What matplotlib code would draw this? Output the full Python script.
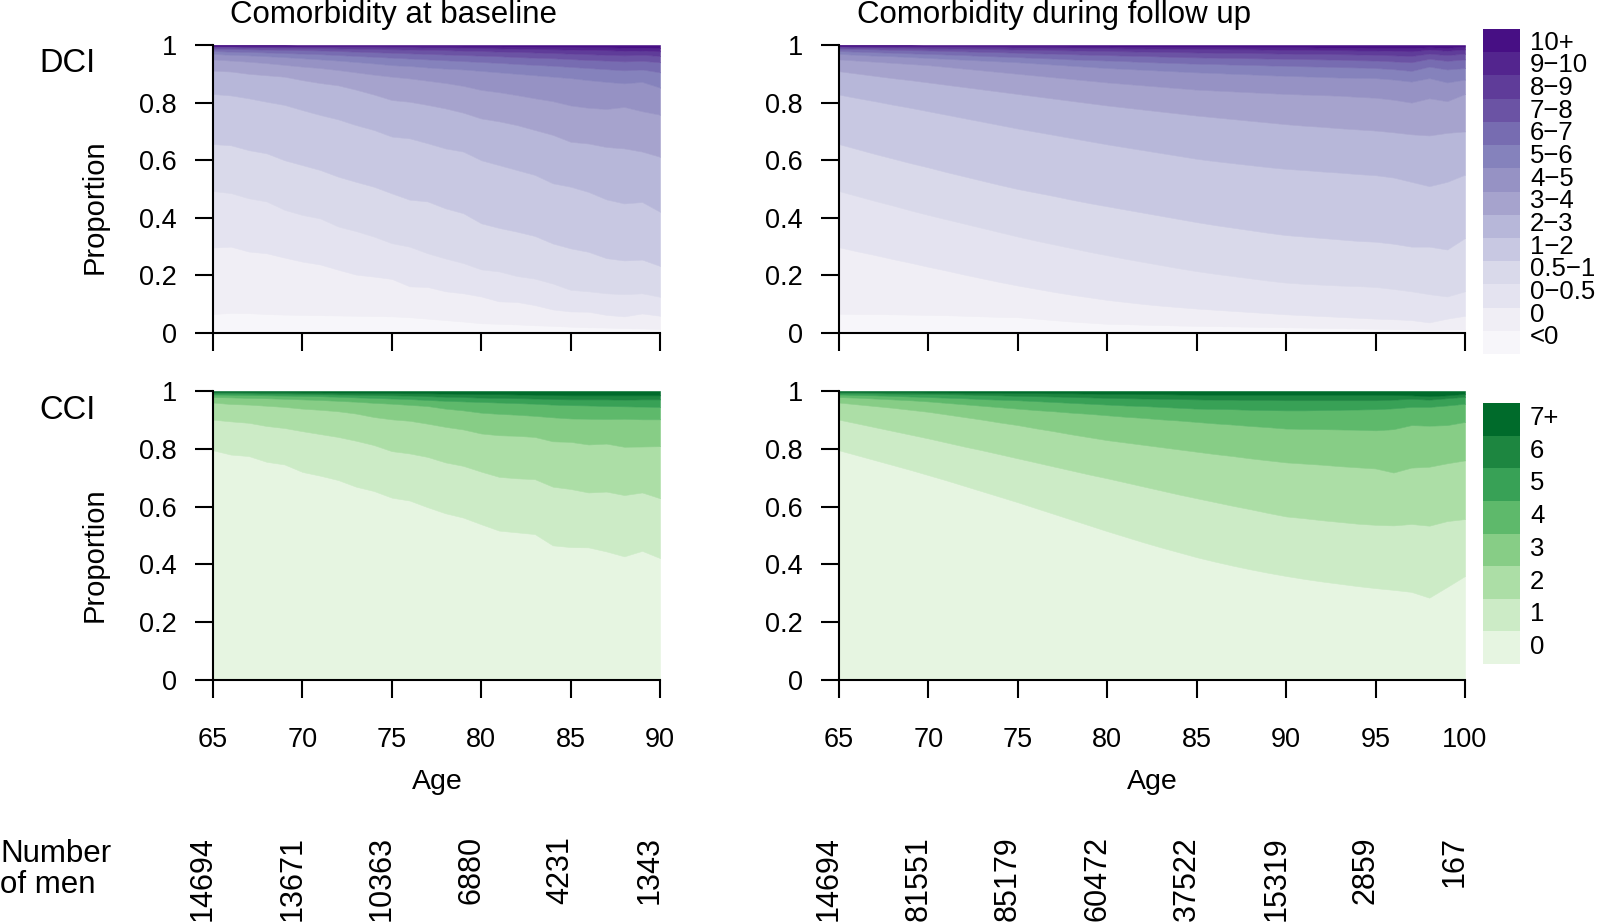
import numpy as np
import matplotlib.pyplot as plt
from matplotlib import transforms

plt.rcParams['font.family'] = ['Liberation Sans', 'DejaVu Sans']

# ages on the x axis
ages_base = list(range(65, 91))
ages_fu = list(range(65, 101))

dci_labels = ["<0", "0", "0\u22120.5", "0.5\u22121", "1\u22122", "2\u22123", "3\u22124",
              "4\u22125", "5\u22126", "6\u22127", "7\u22128", "8\u22129", "9\u221210", "10+"]
cci_labels = ["0", "1", "2", "3", "4", "5", "6", "7+"]

# cumulative proportion (top of each category band), DCI at baseline, ages 65-90
dcib_lt0 = [0.066, 0.070, 0.069, 0.066, 0.064, 0.063, 0.062, 0.061, 0.060, 0.059, 0.058, 0.055, 0.050,
            0.045, 0.040, 0.034, 0.032, 0.030, 0.027, 0.025, 0.022, 0.020, 0.019, 0.017, 0.016, 0.014]
dcib_0 = [0.297, 0.300, 0.283, 0.277, 0.262, 0.248, 0.238, 0.220, 0.203, 0.196, 0.188, 0.162, 0.160,
          0.145, 0.138, 0.127, 0.110, 0.108, 0.097, 0.082, 0.075, 0.074, 0.063, 0.058, 0.068, 0.060]
dcib_0_05 = [0.493, 0.486, 0.468, 0.457, 0.428, 0.410, 0.398, 0.370, 0.354, 0.335, 0.312, 0.300, 0.277,
             0.259, 0.243, 0.221, 0.214, 0.198, 0.189, 0.172, 0.150, 0.145, 0.138, 0.135, 0.138, 0.126]
dcib_05_1 = [0.656, 0.652, 0.635, 0.624, 0.600, 0.583, 0.566, 0.543, 0.525, 0.508, 0.485, 0.463, 0.457,
             0.433, 0.416, 0.381, 0.365, 0.352, 0.337, 0.311, 0.294, 0.282, 0.260, 0.252, 0.255, 0.233]
dcib_1_2 = [0.830, 0.825, 0.815, 0.803, 0.792, 0.774, 0.757, 0.742, 0.722, 0.705, 0.682, 0.676, 0.659,
            0.641, 0.630, 0.600, 0.583, 0.566, 0.549, 0.520, 0.508, 0.490, 0.464, 0.450, 0.455, 0.421]
dcib_2_3 = [0.911, 0.908, 0.900, 0.895, 0.890, 0.878, 0.868, 0.860, 0.845, 0.828, 0.809, 0.803, 0.792,
            0.780, 0.765, 0.745, 0.735, 0.722, 0.705, 0.688, 0.664, 0.658, 0.646, 0.641, 0.630, 0.612]
dcib_3_4 = [0.950, 0.946, 0.942, 0.937, 0.931, 0.925, 0.920, 0.913, 0.905, 0.897, 0.890, 0.884, 0.876,
            0.868, 0.858, 0.844, 0.836, 0.826, 0.815, 0.805, 0.790, 0.782, 0.778, 0.785, 0.770, 0.758]
dcib_4_5 = [0.969, 0.966, 0.964, 0.961, 0.958, 0.954, 0.950, 0.946, 0.941, 0.936, 0.930, 0.927, 0.922,
            0.918, 0.915, 0.910, 0.905, 0.900, 0.895, 0.890, 0.885, 0.878, 0.872, 0.867, 0.872, 0.852]
dcib_5_6 = [0.979, 0.977, 0.976, 0.974, 0.972, 0.970, 0.968, 0.965, 0.962, 0.959, 0.956, 0.953, 0.950,
            0.947, 0.944, 0.941, 0.938, 0.934, 0.931, 0.928, 0.924, 0.920, 0.916, 0.912, 0.915, 0.905]
dcib_6_7 = [0.987, 0.986, 0.985, 0.984, 0.983, 0.982, 0.981, 0.979, 0.977, 0.975, 0.973, 0.971, 0.969,
            0.967, 0.965, 0.963, 0.961, 0.958, 0.956, 0.954, 0.951, 0.948, 0.946, 0.943, 0.945, 0.940]
dcib_7_8 = [0.992, 0.992, 0.991, 0.991, 0.990, 0.989, 0.989, 0.988, 0.987, 0.986, 0.985, 0.984, 0.983,
            0.982, 0.980, 0.979, 0.977, 0.976, 0.974, 0.972, 0.970, 0.968, 0.966, 0.964, 0.966, 0.962]
dcib_8_9 = [0.996, 0.996, 0.995, 0.995, 0.995, 0.994, 0.994, 0.994, 0.993, 0.993, 0.992, 0.992, 0.991,
            0.991, 0.990, 0.989, 0.988, 0.987, 0.986, 0.985, 0.984, 0.983, 0.982, 0.980, 0.981, 0.978]
dcib_9_10 = [0.998, 0.998, 0.998, 0.998, 0.998, 0.997, 0.997, 0.997, 0.997, 0.997, 0.996, 0.996, 0.996,
             0.996, 0.995, 0.995, 0.995, 0.994, 0.994, 0.993, 0.993, 0.992, 0.992, 0.991, 0.991, 0.990]

# DCI during follow up, ages 65-100
dcif_lt0 = [0.067, 0.066, 0.066, 0.065, 0.064, 0.063, 0.062, 0.060, 0.058, 0.056, 0.055, 0.050,
            0.045, 0.040, 0.036, 0.032, 0.031, 0.029, 0.028, 0.026, 0.025, 0.024, 0.023, 0.022,
            0.021, 0.020, 0.019, 0.018, 0.017, 0.016, 0.015, 0.014, 0.013, 0.010, 0.012, 0.012]
dcif_0 = [0.298, 0.284, 0.271, 0.257, 0.244, 0.230, 0.217, 0.203, 0.190, 0.177, 0.165, 0.154,
          0.143, 0.133, 0.124, 0.115, 0.108, 0.101, 0.095, 0.090, 0.085, 0.081, 0.077, 0.073,
          0.069, 0.065, 0.062, 0.059, 0.056, 0.053, 0.050, 0.048, 0.045, 0.037, 0.050, 0.060]
dcif_0_05 = [0.493, 0.476, 0.459, 0.443, 0.426, 0.410, 0.395, 0.380, 0.365, 0.350, 0.335, 0.321,
             0.308, 0.295, 0.282, 0.270, 0.258, 0.247, 0.236, 0.225, 0.215, 0.206, 0.198, 0.190,
             0.182, 0.175, 0.171, 0.168, 0.165, 0.163, 0.160, 0.153, 0.145, 0.135, 0.127, 0.145]
dcif_05_1 = [0.656, 0.639, 0.622, 0.606, 0.590, 0.575, 0.559, 0.544, 0.529, 0.514, 0.500, 0.488,
             0.476, 0.463, 0.451, 0.440, 0.429, 0.418, 0.407, 0.396, 0.385, 0.375, 0.366, 0.357,
             0.348, 0.340, 0.335, 0.330, 0.325, 0.320, 0.317, 0.310, 0.300, 0.300, 0.290, 0.330]
dcif_1_2 = [0.828, 0.816, 0.805, 0.793, 0.782, 0.770, 0.758, 0.746, 0.734, 0.722, 0.710, 0.699,
            0.688, 0.677, 0.666, 0.655, 0.645, 0.635, 0.625, 0.615, 0.605, 0.597, 0.590, 0.583,
            0.576, 0.570, 0.566, 0.561, 0.557, 0.552, 0.548, 0.540, 0.525, 0.510, 0.525, 0.550]
dcif_2_3 = [0.909, 0.901, 0.893, 0.885, 0.878, 0.870, 0.862, 0.854, 0.846, 0.838, 0.830, 0.822,
            0.814, 0.806, 0.798, 0.790, 0.783, 0.776, 0.769, 0.762, 0.755, 0.749, 0.743, 0.737,
            0.731, 0.725, 0.720, 0.716, 0.711, 0.707, 0.703, 0.697, 0.690, 0.686, 0.695, 0.700]
dcif_3_4 = [0.950, 0.946, 0.942, 0.938, 0.934, 0.930, 0.924, 0.918, 0.912, 0.906, 0.900, 0.894,
            0.888, 0.882, 0.876, 0.870, 0.865, 0.860, 0.855, 0.850, 0.845, 0.842, 0.839, 0.836,
            0.833, 0.830, 0.828, 0.826, 0.824, 0.820, 0.817, 0.810, 0.800, 0.815, 0.805, 0.830]
dcif_4_5 = [0.969, 0.966, 0.963, 0.961, 0.958, 0.955, 0.952, 0.949, 0.946, 0.943, 0.940, 0.936,
            0.932, 0.928, 0.924, 0.920, 0.917, 0.914, 0.911, 0.908, 0.905, 0.903, 0.900, 0.898,
            0.895, 0.893, 0.891, 0.889, 0.887, 0.886, 0.885, 0.880, 0.873, 0.885, 0.870, 0.880]
dcif_5_6 = [0.979, 0.977, 0.975, 0.973, 0.971, 0.969, 0.967, 0.965, 0.962, 0.960, 0.958, 0.955,
            0.953, 0.950, 0.948, 0.946, 0.944, 0.941, 0.939, 0.937, 0.935, 0.934, 0.932, 0.931,
            0.929, 0.928, 0.926, 0.925, 0.923, 0.922, 0.920, 0.916, 0.910, 0.925, 0.915, 0.920]
dcif_6_7 = [0.987, 0.986, 0.985, 0.983, 0.982, 0.981, 0.979, 0.978, 0.976, 0.975, 0.973, 0.971,
            0.970, 0.968, 0.966, 0.965, 0.963, 0.962, 0.960, 0.958, 0.957, 0.956, 0.955, 0.954,
            0.953, 0.952, 0.951, 0.950, 0.949, 0.947, 0.946, 0.943, 0.940, 0.952, 0.945, 0.950]
dcif_7_8 = [0.992, 0.991, 0.991, 0.990, 0.989, 0.988, 0.988, 0.987, 0.986, 0.985, 0.984, 0.983,
            0.982, 0.981, 0.980, 0.979, 0.978, 0.977, 0.976, 0.975, 0.974, 0.973, 0.973, 0.972,
            0.971, 0.970, 0.969, 0.969, 0.968, 0.967, 0.966, 0.964, 0.962, 0.970, 0.965, 0.970]
dcif_8_9 = [0.996, 0.996, 0.995, 0.995, 0.994, 0.994, 0.993, 0.993, 0.992, 0.992, 0.991, 0.991,
            0.990, 0.990, 0.989, 0.989, 0.988, 0.988, 0.987, 0.987, 0.986, 0.986, 0.985, 0.985,
            0.984, 0.983, 0.983, 0.982, 0.982, 0.981, 0.981, 0.980, 0.978, 0.984, 0.980, 0.985]
dcif_9_10 = [0.998, 0.998, 0.998, 0.998, 0.998, 0.997, 0.997, 0.997, 0.997, 0.996, 0.996, 0.996,
             0.996, 0.995, 0.995, 0.995, 0.994, 0.994, 0.994, 0.993, 0.993, 0.993, 0.993, 0.992,
             0.992, 0.992, 0.992, 0.991, 0.991, 0.991, 0.990, 0.990, 0.990, 0.992, 0.990, 0.995]

# CCI at baseline, ages 65-90
ccib_0 = [0.795, 0.780, 0.775, 0.755, 0.746, 0.720, 0.707, 0.692, 0.669, 0.654, 0.631, 0.621, 0.598,
          0.577, 0.562, 0.539, 0.517, 0.511, 0.505, 0.466, 0.460, 0.459, 0.445, 0.428, 0.447, 0.422]
ccib_1 = [0.901, 0.895, 0.890, 0.879, 0.872, 0.861, 0.851, 0.841, 0.828, 0.813, 0.792, 0.784, 0.772,
          0.753, 0.741, 0.721, 0.703, 0.698, 0.695, 0.669, 0.661, 0.649, 0.652, 0.640, 0.649, 0.629]
ccib_2 = [0.960, 0.955, 0.953, 0.949, 0.945, 0.939, 0.935, 0.930, 0.922, 0.910, 0.902, 0.897, 0.887,
          0.876, 0.867, 0.853, 0.847, 0.845, 0.841, 0.826, 0.824, 0.815, 0.818, 0.807, 0.808, 0.809]
ccib_3 = [0.979, 0.978, 0.976, 0.975, 0.973, 0.971, 0.969, 0.966, 0.963, 0.959, 0.956, 0.952, 0.948,
          0.939, 0.933, 0.925, 0.921, 0.918, 0.914, 0.909, 0.905, 0.904, 0.903, 0.904, 0.902, 0.902]
ccib_4 = [0.988, 0.987, 0.986, 0.985, 0.984, 0.983, 0.982, 0.980, 0.978, 0.976, 0.974, 0.972, 0.969,
          0.966, 0.964, 0.962, 0.960, 0.958, 0.956, 0.953, 0.951, 0.950, 0.948, 0.947, 0.946, 0.945]
ccib_5 = [0.993, 0.993, 0.992, 0.991, 0.991, 0.990, 0.989, 0.988, 0.987, 0.986, 0.985, 0.984, 0.982,
          0.980, 0.979, 0.977, 0.976, 0.975, 0.974, 0.972, 0.971, 0.971, 0.971, 0.970, 0.971, 0.971]
ccib_6 = [0.997, 0.997, 0.996, 0.996, 0.996, 0.995, 0.995, 0.994, 0.994, 0.993, 0.993, 0.992, 0.992,
          0.991, 0.990, 0.989, 0.989, 0.988, 0.987, 0.986, 0.985, 0.985, 0.985, 0.985, 0.985, 0.985]

# CCI during follow up, ages 65-100
ccif_0 = [0.795, 0.778, 0.761, 0.744, 0.727, 0.709, 0.691, 0.672, 0.653, 0.634, 0.615, 0.595,
          0.575, 0.555, 0.535, 0.515, 0.496, 0.477, 0.459, 0.442, 0.425, 0.410, 0.396, 0.383,
          0.371, 0.360, 0.350, 0.341, 0.333, 0.325, 0.318, 0.312, 0.305, 0.285, 0.322, 0.360]
ccif_1 = [0.901, 0.888, 0.875, 0.862, 0.849, 0.836, 0.822, 0.808, 0.795, 0.781, 0.767, 0.753,
          0.739, 0.725, 0.711, 0.698, 0.684, 0.670, 0.656, 0.642, 0.629, 0.616, 0.603, 0.591,
          0.578, 0.566, 0.560, 0.553, 0.547, 0.541, 0.537, 0.535, 0.540, 0.534, 0.550, 0.557]
ccif_2 = [0.960, 0.954, 0.948, 0.942, 0.935, 0.928, 0.919, 0.910, 0.901, 0.891, 0.882, 0.871,
          0.861, 0.850, 0.840, 0.830, 0.822, 0.814, 0.806, 0.798, 0.790, 0.782, 0.775, 0.767,
          0.760, 0.753, 0.749, 0.745, 0.740, 0.736, 0.732, 0.718, 0.735, 0.738, 0.750, 0.760]
ccif_3 = [0.979, 0.977, 0.974, 0.971, 0.968, 0.964, 0.959, 0.954, 0.949, 0.944, 0.939, 0.934,
          0.930, 0.925, 0.921, 0.916, 0.911, 0.907, 0.902, 0.898, 0.893, 0.888, 0.884, 0.879,
          0.875, 0.870, 0.869, 0.868, 0.867, 0.866, 0.864, 0.868, 0.882, 0.880, 0.882, 0.893]
ccif_4 = [0.988, 0.986, 0.985, 0.983, 0.981, 0.979, 0.977, 0.975, 0.972, 0.970, 0.968, 0.965,
          0.962, 0.959, 0.956, 0.953, 0.950, 0.948, 0.945, 0.942, 0.939, 0.938, 0.937, 0.935,
          0.934, 0.933, 0.933, 0.934, 0.935, 0.936, 0.937, 0.940, 0.945, 0.945, 0.950, 0.956]
ccif_5 = [0.993, 0.993, 0.992, 0.991, 0.990, 0.990, 0.989, 0.988, 0.986, 0.985, 0.983, 0.982,
          0.981, 0.979, 0.978, 0.976, 0.975, 0.974, 0.973, 0.972, 0.971, 0.970, 0.970, 0.969,
          0.969, 0.968, 0.968, 0.968, 0.968, 0.968, 0.968, 0.970, 0.973, 0.970, 0.975, 0.980]
ccif_6 = [0.997, 0.997, 0.996, 0.996, 0.996, 0.995, 0.995, 0.994, 0.994, 0.994, 0.993, 0.993,
          0.992, 0.992, 0.991, 0.990, 0.990, 0.989, 0.989, 0.988, 0.987, 0.987, 0.987, 0.987,
          0.987, 0.987, 0.987, 0.987, 0.987, 0.987, 0.987, 0.986, 0.985, 0.982, 0.985, 0.990]

# number of men at risk
n_base_ages = [65, 70, 75, 80, 85, 90]
n_base = [14694, 13671, 10363, 6880, 4231, 1343]
n_fu_ages = [65, 70, 75, 80, 85, 90, 95, 100]
n_fu = [14694, 81551, 85179, 60472, 37522, 15319, 2859, 167]

dci_base = [dcib_lt0, dcib_0, dcib_0_05, dcib_05_1, dcib_1_2, dcib_2_3, dcib_3_4,
            dcib_4_5, dcib_5_6, dcib_6_7, dcib_7_8, dcib_8_9, dcib_9_10]
dci_fu = [dcif_lt0, dcif_0, dcif_0_05, dcif_05_1, dcif_1_2, dcif_2_3, dcif_3_4,
          dcif_4_5, dcif_5_6, dcif_6_7, dcif_7_8, dcif_8_9, dcif_9_10]
cci_base = [ccib_0, ccib_1, ccib_2, ccib_3, ccib_4, ccib_5, ccib_6]
cci_fu = [ccif_0, ccif_1, ccif_2, ccif_3, ccif_4, ccif_5, ccif_6]

purples = plt.cm.Purples(np.linspace(0.05, 0.95, len(dci_labels)))
greens = plt.cm.Greens(np.linspace(0.12, 0.88, len(cci_labels)))

W, H = 1597, 924
fig = plt.figure(figsize=(W / 100, H / 100), dpi=100)


def px_axes(x0, y0, x1, y1):
    return fig.add_axes([x0 / W, 1 - y1 / H, (x1 - x0) / W, (y1 - y0) / H])


def band_plot(ax, ages, cum, colors, xticks, show_xlabels):
    cum = np.vstack([np.zeros(len(ages)), np.array(cum), np.ones(len(ages))])
    props = np.diff(cum, axis=0)
    ax.stackplot(ages, props, colors=colors, edgecolor='face', linewidth=0.4)
    ax.set_xlim(ages[0], ages[-1])
    ax.set_ylim(0, 1)
    ax.set_xticks(xticks)
    ax.set_yticks([0, 0.2, 0.4, 0.6, 0.8, 1])
    ax.set_yticklabels(["0", "0.2", "0.4", "0.6", "0.8", "1"])
    for s in ['top', 'right']:
        ax.spines[s].set_visible(False)
    for s in ['left', 'bottom']:
        ax.spines[s].set_linewidth(1.5)
        ax.spines[s].set_zorder(5)
    ax.tick_params(axis='both', length=13, width=1.5, labelsize=19.5, direction='out')
    ax.tick_params(axis='y', pad=13)
    ax.tick_params(axis='x', pad=21, labelbottom=show_xlabels)


ax_tl = px_axes(213, 45, 660, 333)
ax_tr = px_axes(839, 45, 1465, 333)
ax_bl = px_axes(213, 391, 660, 680)
ax_br = px_axes(839, 391, 1465, 680)

band_plot(ax_tl, ages_base, dci_base, purples, n_base_ages, False)
band_plot(ax_tr, ages_fu, dci_fu, purples, n_fu_ages, False)
band_plot(ax_bl, ages_base, cci_base, greens, n_base_ages, True)
band_plot(ax_br, ages_fu, cci_fu, greens, n_fu_ages, True)


# legends drawn as stacked boxes; label rows from bottom (y_lo) to top (y_hi) in pixels
def box_legend(x0, y0, x1, y1, colors, labels, size, y_lo, y_hi):
    lax = px_axes(x0, y0, x1, y1)
    k = len(labels)
    lax.bar([0] * k, [1] * k, bottom=list(range(k)), width=1, color=colors, linewidth=0)
    lax.set_xlim(-0.5, 0.5)
    lax.set_ylim(0, k)
    lax.axis('off')
    rows = np.linspace(y_lo, y_hi, k)
    for lab, py in zip(labels, rows):
        fig.text(1530 / W, 1 - py / H, lab, ha='left', va='center', fontsize=size)


box_legend(1483, 29, 1520, 354, purples, dci_labels, 18.5, 337.5, 42.5)
box_legend(1483, 403, 1520, 664, greens, cci_labels, 18.5, 647, 418)

# titles and labels
fig.text(394 / W, 1 - 23 / H, "Comorbidity at baseline", ha='center', va='baseline', fontsize=22.5)
fig.text(1054 / W, 1 - 23 / H, "Comorbidity during follow up", ha='center', va='baseline', fontsize=22.5)
fig.text(39 / W, 1 - 72 / H, "DCI", ha='left', va='baseline', fontsize=23.5)
fig.text(39 / W, 1 - 419 / H, "CCI", ha='left', va='baseline', fontsize=23.5)
fig.text(95 / W, 1 - 207 / H, "Proportion", rotation=90, ha='center', va='center', fontsize=21)
fig.text(95 / W, 1 - 555 / H, "Proportion", rotation=90, ha='center', va='center', fontsize=21)
fig.text(437 / W, 1 - 789 / H, "Age", ha='center', va='baseline', fontsize=20.5)
fig.text(1152 / W, 1 - 789 / H, "Age", ha='center', va='baseline', fontsize=20.5)
fig.text(0, 1 - 862 / H, "Number", ha='left', va='baseline', fontsize=22.5)
fig.text(0, 1 - 893 / H, "of men", ha='left', va='baseline', fontsize=22.5)

for ax, xs, ns in [(ax_bl, n_base_ages, n_base), (ax_br, n_fu_ages, n_fu)]:
    tr = transforms.blended_transform_factory(ax.transData, fig.transFigure)
    tr = transforms.offset_copy(tr, fig=fig, x=-10, y=0, units='dots')
    for x, n in zip(xs, ns):
        ax.text(x, 1 - 836 / H, str(n), transform=tr, rotation=90,
                ha='center', va='top', fontsize=22, clip_on=False)

fig.savefig("out.png", dpi=100)
